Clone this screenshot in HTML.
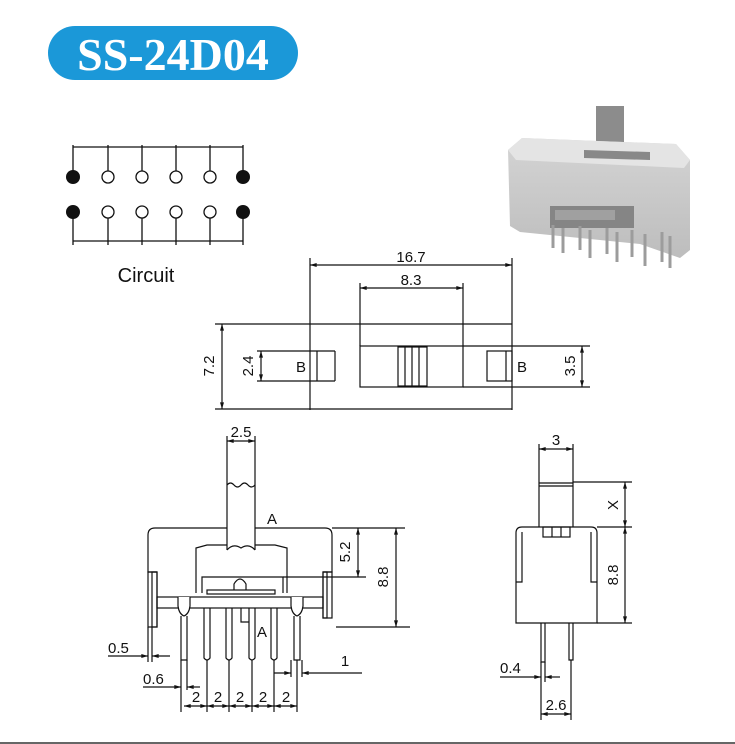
<!DOCTYPE html>
<html><head><meta charset="utf-8"><style>
html,body{margin:0;padding:0;background:#fff;}
svg{display:block;}
text{font-family:"Liberation Sans",sans-serif;fill:#111;}
</style></head><body>
<svg width="735" height="744" viewBox="0 0 735 744" xmlns="http://www.w3.org/2000/svg">
<defs>
<marker id="a" viewBox="0 0 10 6" refX="10" refY="3" markerWidth="7" markerHeight="4" orient="auto-start-reverse" markerUnits="userSpaceOnUse"><path d="M0,0 L10,3 L0,6 z" fill="#111"/></marker>
<linearGradient id="g1" x1="0" y1="0" x2="0" y2="1"><stop offset="0" stop-color="#d4d4d4"/><stop offset="1" stop-color="#bdbdbd"/></linearGradient>
</defs>
<!-- Title -->
<rect x="48" y="26" width="250" height="54" rx="27" fill="#1b98d8"/>
<text x="173" y="70" text-anchor="middle" style="font-family:'Liberation Serif',serif;font-weight:bold;font-size:46px;fill:#fff">SS-24D04</text>

<!-- Circuit -->
<g stroke="#111" stroke-width="1.3" fill="none">
<line x1="73" y1="147" x2="243" y2="147"/>
<line x1="73" y1="241" x2="243" y2="241"/>
<line x1="73" y1="145" x2="73" y2="171"/><line x1="108" y1="145" x2="108" y2="171"/><line x1="142" y1="145" x2="142" y2="171"/><line x1="176" y1="145" x2="176" y2="171"/><line x1="210" y1="145" x2="210" y2="171"/><line x1="243" y1="145" x2="243" y2="171"/>
<line x1="73" y1="218" x2="73" y2="245"/><line x1="108" y1="218" x2="108" y2="245"/><line x1="142" y1="218" x2="142" y2="245"/><line x1="176" y1="218" x2="176" y2="245"/><line x1="210" y1="218" x2="210" y2="245"/><line x1="243" y1="218" x2="243" y2="245"/>
<circle cx="108" cy="177" r="6"/><circle cx="142" cy="177" r="6"/><circle cx="176" cy="177" r="6"/><circle cx="210" cy="177" r="6"/>
<circle cx="108" cy="212" r="6"/><circle cx="142" cy="212" r="6"/><circle cx="176" cy="212" r="6"/><circle cx="210" cy="212" r="6"/>
</g>
<circle cx="73" cy="177" r="7" fill="#111"/><circle cx="243" cy="177" r="7" fill="#111"/>
<circle cx="73" cy="212" r="7" fill="#111"/><circle cx="243" cy="212" r="7" fill="#111"/>
<text x="146" y="282" text-anchor="middle" font-size="20">Circuit</text>

<!-- Photo -->
<g>
<rect x="596" y="106" width="28" height="46" fill="#8c8c8c"/>
<path d="M508,150 L522,138 L676,144 L690,160 L690,250 L680,258 L640,244 L520,232 L510,226 Z" fill="url(#g1)"/>
<path d="M508,150 L522,138 L676,144 L690,160 L684,168 L516,160 Z" fill="#e4e4e4"/>
<path d="M584,150 L650,152 L650,160 L584,158 Z" fill="#888"/>
<rect x="550" y="206" width="84" height="22" fill="#858585"/>
<rect x="555" y="210" width="60" height="10" fill="#a0a0a0"/>
<g stroke="#9c9c9c" stroke-width="3">
<line x1="553" y1="225" x2="553" y2="248"/><line x1="563" y1="228" x2="563" y2="253"/><line x1="580" y1="226" x2="580" y2="250"/><line x1="590" y1="230" x2="590" y2="258"/><line x1="607" y1="228" x2="607" y2="254"/><line x1="617" y1="232" x2="617" y2="262"/><line x1="632" y1="230" x2="632" y2="257"/><line x1="645" y1="234" x2="645" y2="266"/><line x1="662" y1="232" x2="662" y2="262"/><line x1="670" y1="236" x2="670" y2="268"/>
</g>
</g>

<g stroke="#111" stroke-width="1.2" fill="none">
<!-- Top view -->
<line x1="310" y1="258" x2="310" y2="410"/><line x1="512" y1="258" x2="512" y2="410"/>
<line x1="310" y1="265" x2="512" y2="265" marker-start="url(#a)" marker-end="url(#a)"/>
<line x1="360" y1="283" x2="360" y2="346"/><line x1="463" y1="283" x2="463" y2="346"/>
<line x1="360" y1="288" x2="463" y2="288" marker-start="url(#a)" marker-end="url(#a)"/>
<line x1="215" y1="324" x2="512" y2="324"/><line x1="215" y1="409" x2="512" y2="409"/>
<line x1="222" y1="324" x2="222" y2="409" marker-start="url(#a)" marker-end="url(#a)"/>
<rect x="360" y="346" width="103" height="41"/>
<line x1="463" y1="346" x2="590" y2="346"/><line x1="463" y1="387" x2="590" y2="387"/>
<line x1="582" y1="346" x2="582" y2="387" marker-start="url(#a)" marker-end="url(#a)"/>
<rect x="398" y="347" width="29" height="39"/>
<line x1="405" y1="347" x2="405" y2="386"/><line x1="412" y1="347" x2="412" y2="386"/><line x1="419" y1="347" x2="419" y2="386"/>
<line x1="257" y1="351" x2="335" y2="351"/><line x1="257" y1="381" x2="335" y2="381"/>
<line x1="335" y1="351" x2="335" y2="381"/><line x1="317" y1="351" x2="317" y2="381"/>
<line x1="261" y1="351" x2="261" y2="381" marker-start="url(#a)" marker-end="url(#a)"/>
<rect x="487" y="351" width="25" height="30"/><line x1="506" y1="351" x2="506" y2="381"/>

<!-- Front view -->
<line x1="227" y1="436" x2="227" y2="550"/><line x1="255" y1="436" x2="255" y2="550"/>
<line x1="227" y1="441" x2="255" y2="441" marker-start="url(#a)" marker-end="url(#a)"/>
<path d="M227,485 q3.5,-4 7,0 t7,0 t7,0 t7,0"/>
<path d="M157,572 L148,572 L148,535 Q148,528 155,528 L227,528 M255,528 L325,528 Q332,528 332,535 L332,572 L323,572"/>
<path d="M196,593 L196,548 L207,545 L227,545 M255,545 Q263,545 275,545 L287,548 L287,593"/>
<path d="M227,550 Q233,543 241,548 Q249,543 255,550"/>
<path d="M202,593 L202,577 L283,577 L283,593"/>
<path d="M234,590 L234,584 Q240,574 246,584 L246,590"/>
<rect x="207" y="590" width="68" height="4"/>
<rect x="157" y="597" width="166" height="11" fill="#fff"/>
<rect x="148" y="572" width="9" height="55"/><rect x="152" y="572" width="5" height="55"/>
<rect x="323" y="572" width="9" height="46"/><rect x="323" y="572" width="4" height="46"/>
<!-- pins -->
<path d="M178,597 L178,606 Q179,614 184,616 Q189,614 190,606 L190,597" fill="#fff"/>
<path d="M181,616 L181,660 L187,660 L187,616"/>
<path d="M291,597 L291,606 Q292,614 297,616 Q302,614 303,606 L303,597" fill="#fff"/>
<path d="M294,616 L294,660 L300,660 L300,616"/>
<path d="M204,608 L204,658 Q207,662 210,658 L210,608"/>
<path d="M226,608 L226,658 Q229,662 232,658 L232,608"/>
<path d="M249,608 L249,658 Q252,662 255,658 L255,608"/>
<path d="M271,608 L271,658 Q274,662 277,658 L277,608"/>
<path d="M241,608 L241,622 L249,622"/>
<!-- dims -->
<line x1="332" y1="528" x2="405" y2="528"/>
<line x1="283" y1="577" x2="366" y2="577"/>
<line x1="336" y1="627" x2="410" y2="627"/>
<line x1="358" y1="528" x2="358" y2="577" marker-start="url(#a)" marker-end="url(#a)"/>
<line x1="396" y1="528" x2="396" y2="627" marker-start="url(#a)" marker-end="url(#a)"/>
<line x1="148" y1="627" x2="148" y2="662"/><line x1="152" y1="627" x2="152" y2="662"/>
<line x1="108" y1="656" x2="148" y2="656" marker-end="url(#a)"/><line x1="170" y1="656" x2="152" y2="656" marker-end="url(#a)"/>
<line x1="181" y1="660" x2="181" y2="712"/><line x1="187" y1="660" x2="187" y2="690"/>
<line x1="143" y1="687" x2="181" y2="687" marker-end="url(#a)"/><line x1="200" y1="687" x2="187" y2="687" marker-end="url(#a)"/>
<line x1="207" y1="660" x2="207" y2="712"/><line x1="229" y1="660" x2="229" y2="712"/><line x1="252" y1="660" x2="252" y2="712"/><line x1="274" y1="660" x2="274" y2="712"/><line x1="297" y1="660" x2="297" y2="712"/>
<line x1="291" y1="660" x2="291" y2="677"/><line x1="302" y1="660" x2="302" y2="677"/>
<line x1="274" y1="673" x2="291" y2="673" marker-end="url(#a)"/><line x1="362" y1="673" x2="302" y2="673" marker-end="url(#a)"/>
<line x1="184" y1="706" x2="207" y2="706" marker-start="url(#a)" marker-end="url(#a)"/>
<line x1="207" y1="706" x2="229" y2="706" marker-start="url(#a)" marker-end="url(#a)"/>
<line x1="229" y1="706" x2="252" y2="706" marker-start="url(#a)" marker-end="url(#a)"/>
<line x1="252" y1="706" x2="274" y2="706" marker-start="url(#a)" marker-end="url(#a)"/>
<line x1="274" y1="706" x2="297" y2="706" marker-start="url(#a)" marker-end="url(#a)"/>

<!-- Side view -->
<line x1="539" y1="444" x2="539" y2="527"/><line x1="573" y1="444" x2="573" y2="527"/>
<line x1="539" y1="449" x2="573" y2="449" marker-start="url(#a)" marker-end="url(#a)"/>
<line x1="539" y1="483" x2="573" y2="483"/><line x1="539" y1="486" x2="573" y2="486"/>
<line x1="573" y1="482" x2="632" y2="482"/>
<path d="M516,623 L516,533 Q516,527 522,527 L591,527 Q597,527 597,533 L597,623 Z"/>
<path d="M522,532 L522,582 L516,582 M591,532 L591,582 L597,582"/>
<rect x="543" y="527" width="27" height="10"/><line x1="552" y1="527" x2="552" y2="537"/><line x1="561" y1="527" x2="561" y2="537"/>
<line x1="597" y1="527" x2="632" y2="527"/><line x1="597" y1="623" x2="632" y2="623"/>
<line x1="625" y1="482" x2="625" y2="527" marker-start="url(#a)" marker-end="url(#a)"/>
<line x1="625" y1="527" x2="625" y2="623" marker-start="url(#a)" marker-end="url(#a)"/>
<path d="M541,623 L541,662 L545,662 L545,623"/>
<path d="M569,623 L569,660 L573,660 L573,623"/>
<line x1="541" y1="662" x2="541" y2="720"/><line x1="545" y1="662" x2="545" y2="682"/><line x1="571" y1="660" x2="571" y2="720"/>
<line x1="500" y1="677" x2="541" y2="677" marker-end="url(#a)"/><line x1="560" y1="677" x2="545" y2="677" marker-end="url(#a)"/>
<line x1="541" y1="714" x2="571" y2="714" marker-start="url(#a)" marker-end="url(#a)"/>
</g>

<!-- labels -->
<g font-size="15">
<text x="411" y="262" text-anchor="middle">16.7</text>
<text x="411" y="285" text-anchor="middle">8.3</text>
<text transform="translate(214,366) rotate(-90)" text-anchor="middle">7.2</text>
<text transform="translate(253,366) rotate(-90)" text-anchor="middle">2.4</text>
<text transform="translate(575,366) rotate(-90)" text-anchor="middle">3.5</text>
<text x="301" y="372" text-anchor="middle">B</text>
<text x="522" y="372" text-anchor="middle">B</text>
<text x="241" y="437" text-anchor="middle">2.5</text>
<text x="272" y="524" text-anchor="middle">A</text>
<text x="262" y="637" text-anchor="middle">A</text>
<text transform="translate(350,552) rotate(-90)" text-anchor="middle">5.2</text>
<text transform="translate(388,577) rotate(-90)" text-anchor="middle">8.8</text>
<text x="108" y="653">0.5</text>
<text x="143" y="684">0.6</text>
<text x="345" y="666" text-anchor="middle">1</text>
<text x="196" y="702" text-anchor="middle">2</text>
<text x="218" y="702" text-anchor="middle">2</text>
<text x="240" y="702" text-anchor="middle">2</text>
<text x="263" y="702" text-anchor="middle">2</text>
<text x="286" y="702" text-anchor="middle">2</text>
<text x="556" y="445" text-anchor="middle">3</text>
<text transform="translate(618,505) rotate(-90)" text-anchor="middle">X</text>
<text transform="translate(618,575) rotate(-90)" text-anchor="middle">8.8</text>
<text x="500" y="673">0.4</text>
<text x="556" y="710" text-anchor="middle">2.6</text>
</g>
<rect x="0" y="742" width="735" height="2" fill="#666"/>
</svg>
</body></html>
